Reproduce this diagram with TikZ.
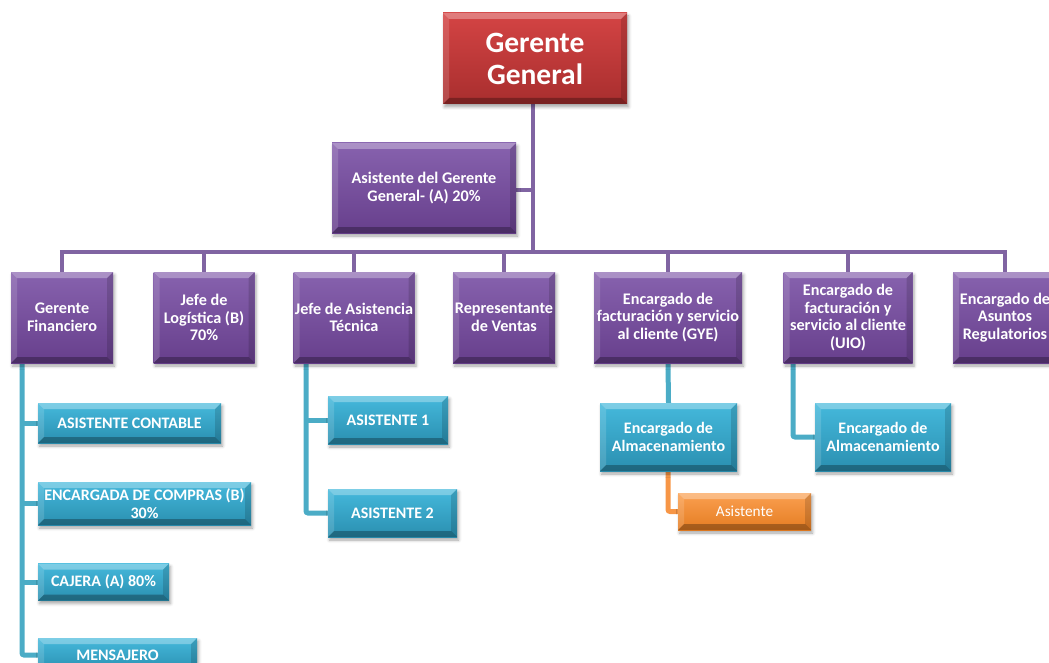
\documentclass[tikz,border=0pt]{standalone}
\usepackage{fontspec}
\setmainfont{Carlito}
\usetikzlibrary{shadows.blur,backgrounds}

\definecolor{redTop}{HTML}{D44444}
\definecolor{redBot}{HTML}{A82E2E}
\definecolor{purTop}{HTML}{8762AE}
\definecolor{purBot}{HTML}{673F8C}
\definecolor{purLine}{HTML}{8064A2}
\definecolor{cyTop}{HTML}{45B9DC}
\definecolor{cyBot}{HTML}{2A8FB0}
\definecolor{cyLine}{HTML}{4BACC6}
\definecolor{orTop}{HTML}{FBA050}
\definecolor{orBot}{HTML}{E47C22}
\definecolor{orLine}{HTML}{F79646}

\tikzset{
  bevel/.style={path picture={
    \coordinate (bNW) at (path picture bounding box.north west);
    \coordinate (bNE) at (path picture bounding box.north east);
    \coordinate (bSW) at (path picture bounding box.south west);
    \coordinate (bSE) at (path picture bounding box.south east);
    \fill[white,opacity=.30] (bNW) -- (bNE) -- ([xshift=-#1,yshift=-#1]bNE) -- ([xshift=#1,yshift=-#1]bNW) -- cycle;
    \fill[white,opacity=.14] (bNW) -- ([xshift=#1,yshift=-#1]bNW) -- ([xshift=#1,yshift=#1]bSW) -- (bSW) -- cycle;
    \fill[black,opacity=.14] (bNE) -- ([xshift=-#1,yshift=-#1]bNE) -- ([xshift=-#1,yshift=#1]bSE) -- (bSE) -- cycle;
    \fill[black,opacity=.28] (bSW) -- ([xshift=#1,yshift=#1]bSW) -- ([xshift=-#1,yshift=#1]bSE) -- (bSE) -- cycle;
  }},
  card/.style={rectangle, inner sep=0pt, align=center, text=white, bevel=6pt,
    blur shadow={shadow xshift=1.5pt, shadow yshift=-3pt, shadow blur radius=3pt, shadow opacity=35}},
  topcard/.style={card, top color=redTop, bottom color=redBot,
    font=\bfseries\fontsize{29.5}{32}\selectfont},
  purcard/.style={card, top color=purTop, bottom color=purBot,
    font=\bfseries\fontsize{16.2}{17.6}\selectfont},
  cycard/.style={card, top color=cyTop, bottom color=cyBot,
    font=\bfseries\fontsize{16}{17.5}\selectfont},
  orcard/.style={card, top color=orTop, bottom color=orBot,
    font=\fontsize{15.3}{17}\selectfont},
  purlink/.style={draw=purLine, line width=4.5pt},
  cylink/.style={draw=cyLine, line width=5pt, rounded corners=2pt},
  orlink/.style={draw=orLine, line width=5pt, rounded corners=2pt},
}

\begin{document}
\begin{tikzpicture}[x=1pt, y=-1pt]
\useasboundingbox (0,0) rectangle (1049,663);
\clip (0,0) rectangle (1049,663);

% ---------- boxes ----------
\node[topcard, minimum width=184pt, minimum height=91pt] (gg) at (535,58.5) {Gerente\\General};
\node[purcard, minimum width=184pt, minimum height=90pt] (asis) at (424,188) {Asistente del Gerente\\General- (A) 20\%};

\node[purcard, minimum width=102pt, minimum height=91pt] (gf)  at (62,317.5)   {Gerente\\Financiero};
\node[purcard, minimum width=101pt, minimum height=91pt] (jl)  at (204,317.5)  {Jefe de\\Logística (B)\\70\%};
\node[purcard, minimum width=121pt, minimum height=91pt] (ja)  at (354,317.5)  {Jefe de Asistencia\\Técnica};
\node[purcard, minimum width=102pt, minimum height=91pt] (rv)  at (504,317.5)  {Representante\\de Ventas};
\node[purcard, minimum width=148pt, minimum height=91pt] (gye) at (668,317.5)  {Encargado de\\facturación y servicio\\al cliente (GYE)};
\node[purcard, minimum width=129pt, minimum height=91pt] (uio) at (848,317.5)  {Encargado de\\facturación y\\servicio al cliente\\(UIO)};
\node[purcard, minimum width=104pt, minimum height=91pt] (reg) at (1005,317.5) {Encargado de\\Asuntos\\Regulatorios};

\node[cycard, minimum width=183pt, minimum height=40pt] (ac) at (129.5,423)   {ASISTENTE CONTABLE};
\node[cycard, minimum width=213pt, minimum height=43pt] (ec) at (144.5,503.5) {ENCARGADA DE COMPRAS (B)\\30\%};
\node[cycard, minimum width=131pt, minimum height=37pt] (cj) at (103.5,582)   {CAJERA (A) 80\%};
\node[cycard, minimum width=159pt, minimum height=34pt] (ms) at (117.5,655)   {MENSAJERO};

\node[cycard, minimum width=120pt, minimum height=48pt] (a1) at (388,420)   {ASISTENTE 1};
\node[cycard, minimum width=129pt, minimum height=48pt] (a2) at (392.5,513) {ASISTENTE 2};

\node[cycard, minimum width=137pt, minimum height=68pt] (ea1) at (668.5,437) {Encargado de\\Almacenamiento};
\node[cycard, minimum width=136pt, minimum height=68pt] (ea2) at (883,437)   {Encargado de\\Almacenamiento};

\node[orcard, minimum width=133pt, minimum height=37pt] (as) at (744.5,511.5) {Asistente};

% ---------- connectors, behind the boxes ----------
\coordinate (trunkTop) at (533,104);
\coordinate (barMid)   at (533,252);
\coordinate (spineL)   at (22,363);
\coordinate (spineA)   at (306,363);
\coordinate (spineU)   at (793,363);
\coordinate (spineO)   at (668,471);

\begin{scope}[on background layer]
  % purple tree
  \path[purlink] (trunkTop) -- (barMid);
  \path[purlink] (asis.east |- 0,190) -- (533,190);
  \path[purlink] ([xshift=-2.25pt]gf.north |- barMid) -- ([xshift=2.25pt]reg.north |- barMid);
  \foreach \n in {gf,jl,ja,rv,gye,uio,reg}
    \path[purlink] (\n.north |- barMid) -- (\n.north);
  % cyan branches
  \path[cylink] (spineL) |- (ms.west);
  \foreach \n in {ac,ec,cj}
    \path[cylink] (spineL |- \n.west) -- (\n.west);
  \path[cylink] (spineA) |- (a2.west);
  \path[cylink] (spineA |- a1.west) -- (a1.west);
  \path[cylink] (gye.south) -- (ea1.north);
  \path[cylink] (spineU) |- (ea2.west);
  % orange branch
  \path[orlink] (spineO) |- (as.west);
\end{scope}
\end{tikzpicture}
\end{document}
